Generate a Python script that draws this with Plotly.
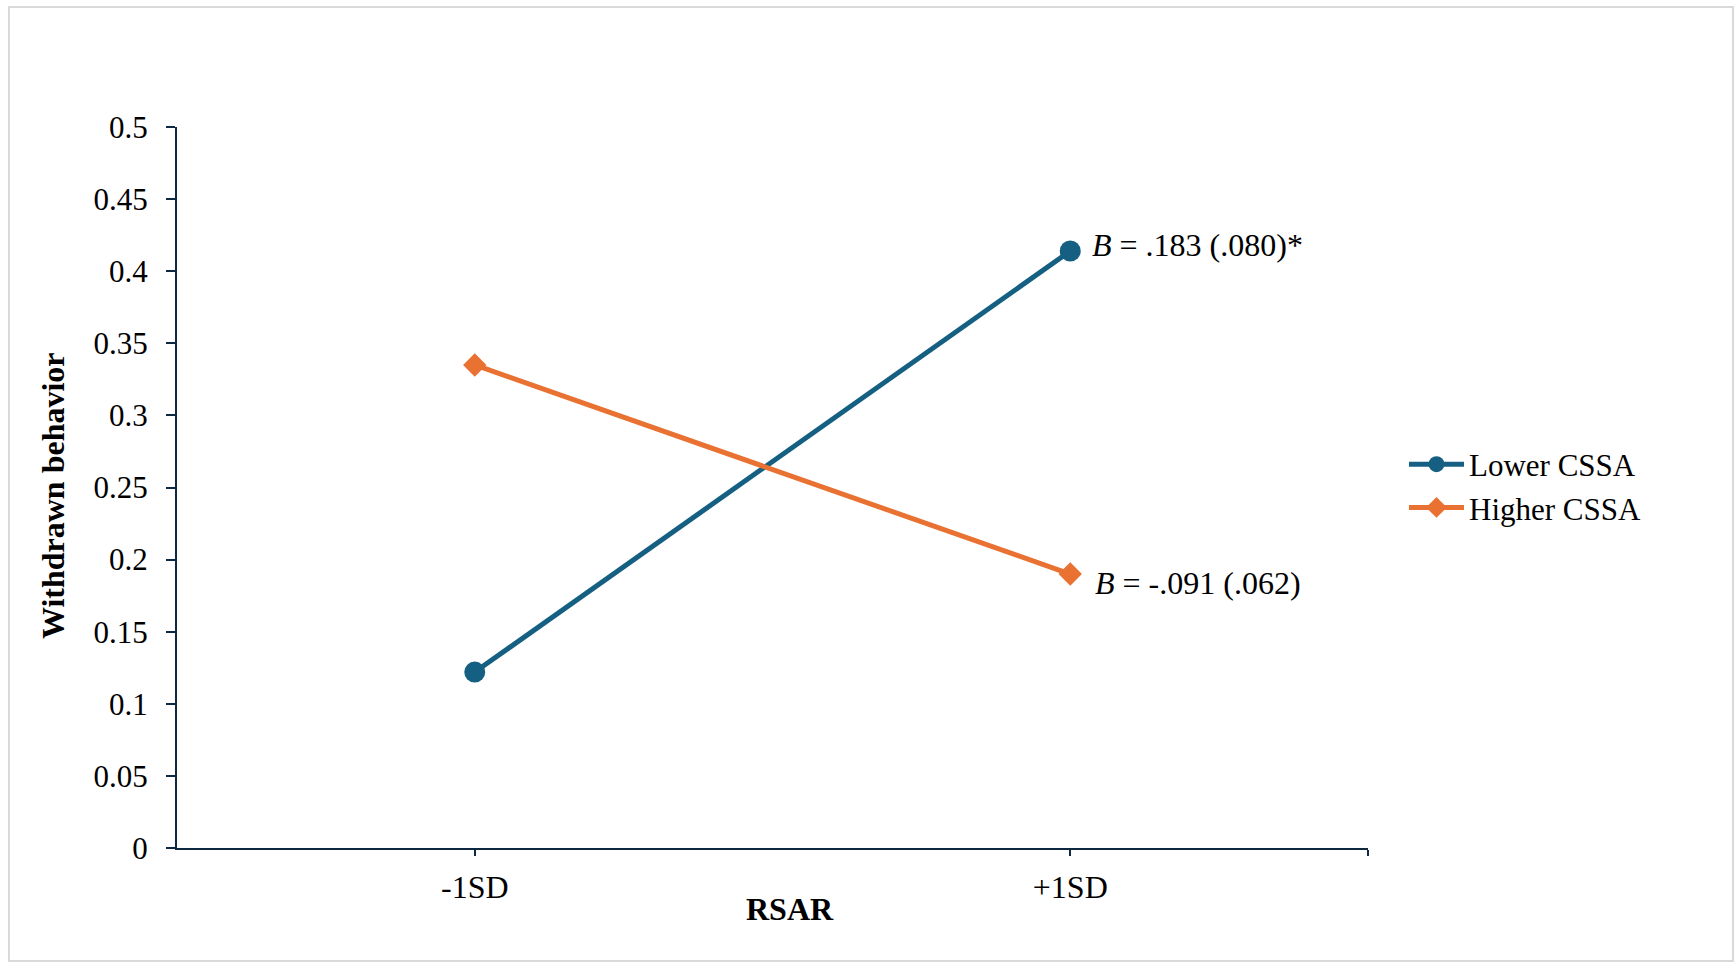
import plotly.graph_objects as go

# Simple-slopes data: withdrawn behavior at low/high RSAR for two CSSA groups
rsar_levels = ["-1SD", "+1SD"]
lower_cssa = [0.122, 0.414]
higher_cssa = [0.335, 0.190]
slope_labels = ["<i>B</i> = .183 (.080)*", "<i>B</i> = -.091 (.062)"]
y_ticks = [0, 0.05, 0.1, 0.15, 0.2, 0.25, 0.3, 0.35, 0.4, 0.45, 0.5]

BLUE = "#156082"
ORANGE = "#E97132"
AXIS = "#0E2841"
FONT = "Liberation Serif, Times New Roman, serif"

x_pos = list(range(len(rsar_levels)))

W, H = 1734, 962
L, R, T, B = 177, 366, 127, 114
pw, ph = W - L - R, H - T - B


def px_x(px):
    return (px - L) / pw


def px_y(py):
    return (T + ph - py) / ph


fig = go.Figure()
fig.add_trace(go.Scatter(
    x=x_pos, y=lower_cssa, name="Lower CSSA", mode="lines+markers",
    line=dict(color=BLUE, width=5),
    marker=dict(symbol="circle", size=21, color=BLUE),
))
fig.add_trace(go.Scatter(
    x=x_pos, y=higher_cssa, name="Higher CSSA", mode="lines+markers",
    line=dict(color=ORANGE, width=5),
    marker=dict(symbol="diamond", size=18, color=ORANGE),
))

# Slope labels next to the +1SD end of each line
fig.add_annotation(x=x_pos[1], y=lower_cssa[1], text=slope_labels[0],
                   xref="x", yref="y", showarrow=False, xanchor="left",
                   xshift=20, yshift=6, font=dict(family=FONT, size=32, color="black"))
fig.add_annotation(x=x_pos[1], y=higher_cssa[1], text=slope_labels[1],
                   xref="x", yref="y", showarrow=False, xanchor="left",
                   xshift=23, yshift=-9, font=dict(family=FONT, size=32, color="black"))

# Axis titles
fig.add_annotation(x=px_x(790), y=px_y(909), xref="paper", yref="paper",
                   text="<b>RSAR</b>", showarrow=False, xanchor="center", yanchor="middle",
                   font=dict(family=FONT, size=32, color="black"))
fig.add_annotation(x=px_x(53), y=px_y(496), xref="paper", yref="paper",
                   text="<b>Withdrawn behavior</b>", textangle=-90, showarrow=False,
                   xanchor="center", yanchor="middle",
                   font=dict(family=FONT, size=32, color="black"))

# Light outer frame
fig.add_shape(type="rect", xref="paper", yref="paper",
              x0=px_x(9), x1=px_x(1733), y0=px_y(961), y1=px_y(7),
              line=dict(color="#D9D9D9", width=2), fillcolor="rgba(0,0,0,0)", layer="below")

fig.update_layout(
    width=W, height=H,
    margin=dict(l=L, r=R, t=T, b=B, autoexpand=False),
    paper_bgcolor="white", plot_bgcolor="white",
    font=dict(family=FONT, size=32, color="black"),
    showlegend=True,
    legend=dict(x=px_x(1404), y=px_y(486), xanchor="left", yanchor="middle",
                font=dict(family=FONT, size=31, color="black"),
                bgcolor="rgba(0,0,0,0)", itemwidth=55, tracegroupgap=0),
    xaxis=dict(
        range=[-0.5, 1.5], tickmode="array",
        tickvals=x_pos + [1.5], ticktext=rsar_levels + [""],
        showgrid=False, zeroline=False, showline=True, linecolor=AXIS, linewidth=2,
        ticks="outside", ticklen=6, tickwidth=1.5, tickcolor=AXIS,
        tickfont=dict(family=FONT, size=32, color="black"), ticklabelstandoff=4,
    ),
    yaxis=dict(
        range=[0, 0.5], tickmode="array", tickvals=y_ticks,
        ticktext=[f"{v:g}" for v in y_ticks],
        showgrid=False, zeroline=False, showline=True, linecolor=AXIS, linewidth=2,
        ticks="outside", ticklen=9, tickwidth=2, tickcolor=AXIS,
        tickfont=dict(family=FONT, size=31, color="black"), ticklabelstandoff=12,
    ),
)

fig.write_html("out.html")
